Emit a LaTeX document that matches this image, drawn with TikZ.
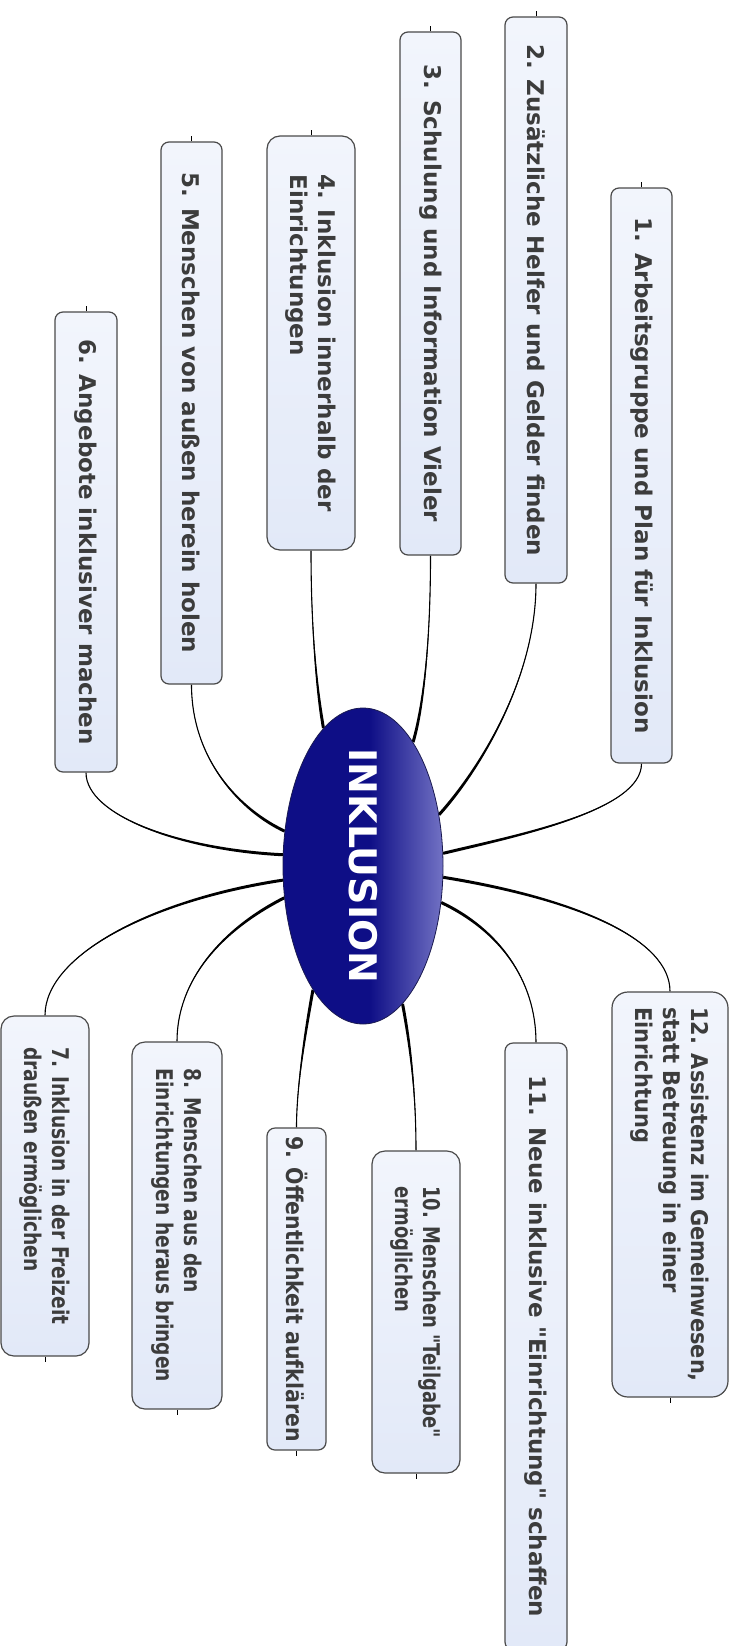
\documentclass[tikz,border=0pt]{standalone}
\usepackage{fontspec}
\setmainfont{DejaVu Sans}
\newfontfamily\fsN{DejaVu Sans}
\newfontfamily\fsA{DejaVu Sans}[FakeStretch=0.81]
\newfontfamily\fsB{DejaVu Sans}[FakeStretch=0.78]
\newfontfamily\fsC{DejaVu Sans}[FakeStretch=0.89]
\newfontfamily\fsD{DejaVu Sans}[FakeStretch=0.91]
\usetikzlibrary{calc,shapes.geometric}
\definecolor{boxline}{HTML}{4A4A4A}
\definecolor{boxtext}{HTML}{3C3C3C}
\definecolor{boxlight}{HTML}{F2F5FC}
\definecolor{boxblue}{HTML}{E2E9F8}
\definecolor{hubdark}{HTML}{0E0E86}
\definecolor{hublight}{HTML}{7272C4}
\definecolor{hubedge}{HTML}{1A1A50}
\pgfdeclarehorizontalshading{hubshade}{100bp}{color(0bp)=(hubdark); color(25bp)=(hubdark); color(52bp)=(hubdark); color(75bp)=(hublight); color(100bp)=(hublight)}
\pgfdeclarelayer{back}
\pgfdeclarelayer{bg}
\pgfsetlayers{back,bg,main}
\newcommand{\conn}[4]{%
  \coordinate (A) at (c.#1);
  \coordinate (C1) at ($(A)+(#3)$);
  \fill[black] ($(A)!1.5pt!90:(C1)$) .. controls +(#3) and +(#4) .. (#2) .. controls +(#4) and +(#3) .. ($(A)!1.5pt!-90:(C1)$) -- cycle;
  \draw[black, line width=1.1pt] (A) .. controls +(#3) and +(#4) .. (#2);
}
\begin{document}
\begin{tikzpicture}[x=1pt,y=-1pt,
  mbox/.style={draw=boxline, line width=1.2pt, top color=boxlight, bottom color=boxblue, rotate=-90, inner sep=0pt, align=left, text=boxtext, font=#1\bfseries\fontsize{23}{28}\selectfont},
  mbox/.default=\fsN,
  hub/.style={ellipse, draw=hubedge, line width=0.8pt, shading=hubshade, minimum width=160pt, minimum height=316pt, inner sep=0pt},
  hubtext/.style={rotate=-90, text=white, inner sep=0pt, font=\fsN\bfseries\fontsize{38}{40}\selectfont},
  tick/.style={draw=black, line width=0.9pt}]
\begin{pgfonlayer}{back}
\fill[white] (0,0) rectangle (739,1646);
\end{pgfonlayer}
\useasboundingbox (0,0) rectangle (739,1646);

\node[hub] (c) at (363,866) {};
\node[hubtext] (ct) at (c.center) {INKLUSION};

\node[mbox, minimum width=575pt, minimum height=61pt, rounded corners=8pt] (b1) at (641.5,475.5) {1. Arbeitsgruppe und Plan für Inklusion};
\node[mbox, minimum width=566pt, minimum height=62pt, rounded corners=8pt] (b2) at (536,300) {2. Zusätzliche Helfer und Gelder finden};
\node[mbox, minimum width=523pt, minimum height=61pt, rounded corners=8pt] (b3) at (430.5,293.5) {3. Schulung und Information Vieler};
\node[mbox, minimum width=414pt, minimum height=88pt, rounded corners=13pt] (b4) at (311,343) {4. Inklusion innerhalb der\\Einrichtungen};
\node[mbox, minimum width=542pt, minimum height=61pt, rounded corners=8pt] (b5) at (191.5,413) {5. Menschen von außen herein holen};
\node[mbox, minimum width=460pt, minimum height=62pt, rounded corners=8pt] (b6) at (86,542) {6. Angebote inklusiver machen};
\node[mbox=\fsA, minimum width=340pt, minimum height=88pt, rounded corners=13pt] (b7) at (45,1186) {7. Inklusion in der Freizeit\\draußen ermöglichen};
\node[mbox=\fsA, minimum width=367pt, minimum height=90pt, rounded corners=13pt] (b8) at (177,1225.5) {8. Menschen aus den\\Einrichtungen heraus bringen};
\node[mbox=\fsC, minimum width=322pt, minimum height=59pt, rounded corners=8pt] (b9) at (296.5,1289) {9. Öffentlichkeit aufklären};
\node[mbox=\fsB, minimum width=322pt, minimum height=88pt, rounded corners=13pt] (b10) at (416,1312) {10. Menschen "Teilgabe"\\ermöglichen};
\node[mbox, minimum width=607pt, minimum height=62pt, rounded corners=8pt] (b11) at (536,1346.5) {11. Neue inklusive "Einrichtung" schaffen};
\node[mbox=\fsD, minimum width=405pt, minimum height=116pt, rounded corners=16pt] (b12) at (670,1194.5) {12. Assistenz im Gemeinwesen,\\statt Betreuung in einer\\Einrichtung};

\begin{pgfonlayer}{bg}
\conn{9}{b1.east}{75,-18}{0,47}
\conn{34}{b2.east}{38,-42}{0,97}
\conn{68}{b3.east}{9,-30}{0,95}
\conn{106}{b4.east}{-5,-28}{0,90}
\conn{156}{b5.east}{-43,-20}{0,76}
\conn{172}{b6.east}{-102,-5}{0,43}
\conn{190}{b7.west}{-132,20}{0,-60}
\conn{202}{b8.west}{-63,32}{0,-61}
\conn{248}{b9.west}{-9,50}{0,-38}
\conn{286}{b10.west}{9,47}{0,-51}
\conn{335}{b11.west}{57,27}{0,-63}
\conn{352}{b12.west}{135,22}{0,-52}
\end{pgfonlayer}

\draw[tick] (b1.west) -- ++(0,-5);
\draw[tick] (b2.west) -- ++(0,-5);
\draw[tick] (b3.west) -- ++(0,-5);
\draw[tick] (b4.west) -- ++(0,-5);
\draw[tick] (b5.west) -- ++(0,-5);
\draw[tick] (b6.west) -- ++(0,-5);
\draw[tick] (b7.east) -- ++(0,5);
\draw[tick] (b8.east) -- ++(0,5);
\draw[tick] (b9.east) -- ++(0,5);
\draw[tick] (b10.east) -- ++(0,5);
\draw[tick] (b12.east) -- ++(0,5);
\end{tikzpicture}
\end{document}
